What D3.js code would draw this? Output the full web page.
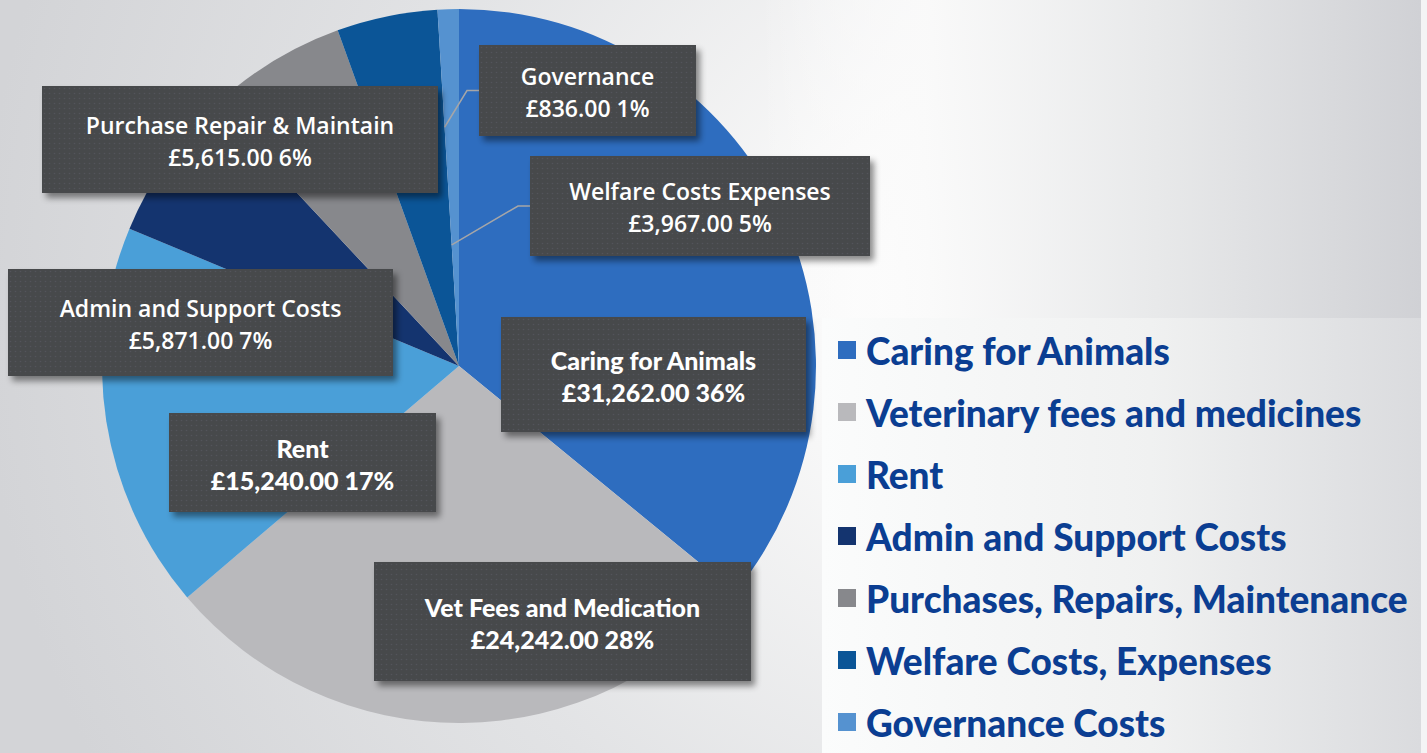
<!DOCTYPE html>
<html>
<head>
<meta charset="utf-8">
<script src="https://cdn.jsdelivr.net/npm/d3@7"></script>
<style>
  body { margin: 0; overflow: hidden; }
  svg { display: block; }
</style>
</head>
<body>
<svg width="1427" height="753"></svg>
<script>
// data
var categories = ["Caring for Animals", "Veterinary fees and medicines", "Rent",
    "Admin and Support Costs", "Purchases, Repairs, Maintenance",
    "Welfare Costs, Expenses", "Governance Costs"];
var values = [31262, 24242, 15240, 5871, 5615, 3967, 836];
var labelNames = ["Caring for Animals", "Vet Fees and Medication", "Rent",
    "Admin and Support Costs", "Purchase Repair & Maintain",
    "Welfare Costs Expenses", "Governance"];
var percentLabels = ["36%", "28%", "17%", "7%", "6%", "5%", "1%"];
var colors = ["#2e6dbf", "#b9b9bc", "#4a9fd8", "#14346f", "#87888c", "#0b5597", "#5592d0"];

// label box layout [x, y, w, h], rounded font flag
var boxes = [
    [501, 317, 305, 115],
    [374, 562, 377, 119],
    [169, 413, 267, 99],
    [8, 269, 385, 107],
    [42, 86, 396, 107],
    [530, 156, 340, 100],
    [479, 45, 217, 91]
];
var roundFont = [true, true, true, false, false, false, false];
// leader lines: [slice index, radius fraction]
var leaders = [[6, 0.67], [5, 0.34]];

var svg = d3.select("svg"),
    width = +svg.attr("width"),
    height = +svg.attr("height"),
    cx = 459, cy = 366, radius = 357;

var defs = svg.append("defs");

var bg = defs.append("radialGradient").attr("id", "bg")
    .attr("gradientUnits", "userSpaceOnUse")
    .attr("cx", 980).attr("cy", 300).attr("r", 1000);
bg.append("stop").attr("offset", "0%").attr("stop-color", "#ffffff");
bg.append("stop").attr("offset", "20%").attr("stop-color", "#f8f8f8");
bg.append("stop").attr("offset", "60%").attr("stop-color", "#e2e3e5");
bg.append("stop").attr("offset", "100%").attr("stop-color", "#d3d4d7");

var topRight = defs.append("linearGradient").attr("id", "topRight")
    .attr("x1", "0%").attr("x2", "100%");
topRight.append("stop").attr("offset", "0%").attr("stop-color", "#ffffff").attr("stop-opacity", 0);
topRight.append("stop").attr("offset", "25%").attr("stop-color", "#fafafa").attr("stop-opacity", 0.9);
topRight.append("stop").attr("offset", "60%").attr("stop-color", "#e8e9ea").attr("stop-opacity", 1);
topRight.append("stop").attr("offset", "100%").attr("stop-color", "#d0d1d5").attr("stop-opacity", 1);

var legendBg = defs.append("linearGradient").attr("id", "legendBg")
    .attr("x1", "0%").attr("x2", "100%");
legendBg.append("stop").attr("offset", "0%").attr("stop-color", "#fbfcfc");
legendBg.append("stop").attr("offset", "55%").attr("stop-color", "#f0f1f1");
legendBg.append("stop").attr("offset", "100%").attr("stop-color", "#dadbde");

var shadow = defs.append("filter").attr("id", "shadow")
    .attr("x", "-10%").attr("y", "-10%").attr("width", "130%").attr("height", "140%");
shadow.append("feDropShadow")
    .attr("dx", 4).attr("dy", 5).attr("stdDeviation", 3)
    .attr("flood-color", "#000").attr("flood-opacity", 0.45);

var dots = defs.append("pattern").attr("id", "dots")
    .attr("width", 5).attr("height", 5).attr("patternUnits", "userSpaceOnUse");
dots.append("rect").attr("width", 5).attr("height", 5).attr("fill", "#46484c");
dots.append("circle").attr("cx", 2.5).attr("cy", 2.5).attr("r", 0.8).attr("fill", "#53555a");

// background
svg.append("rect").attr("width", width).attr("height", height).attr("fill", "url(#bg)");
svg.append("rect").attr("x", 760).attr("y", 0).attr("width", 661).attr("height", 318)
    .attr("fill", "url(#topRight)");
svg.append("rect").attr("x", 822).attr("y", 318).attr("width", 599).attr("height", 435)
    .attr("fill", "url(#legendBg)");
svg.append("rect").attr("x", 1421).attr("y", 0).attr("width", 6).attr("height", height)
    .attr("fill", "#f4f4f5");

// pie
var pie = d3.pie().sort(null).value(function (d) { return d; });
var arcs = pie(values);
var arc = d3.arc().innerRadius(0).outerRadius(radius);

var g = svg.append("g").attr("transform", "translate(" + cx + "," + cy + ")");

g.selectAll("path.slice")
    .data(arcs)
    .enter().append("path")
    .attr("class", "slice")
    .attr("d", arc)
    .attr("fill", function (d, i) { return colors[i]; });

// leader lines
leaders.forEach(function (l) {
    var a = arcs[6].startAngle,
        r = radius * l[1],
        b = boxes[l[0]],
        x0 = Math.sin(a) * r,
        y0 = -Math.cos(a) * r,
        by = b[1] + b[3] / 2 - cy,
        bx = b[0] - cx;
    g.append("polyline")
        .attr("points", [[x0, y0], [bx - 12, by], [bx, by]].map(function (p) { return p.join(","); }).join(" "))
        .attr("fill", "none")
        .attr("stroke", "#a6a6a8")
        .attr("stroke-width", 1.5);
});

// label boxes
var fmt = d3.format(",.2f");
var lab = svg.selectAll("g.lab")
    .data(arcs)
    .enter().append("g")
    .attr("class", "lab")
    .attr("transform", function (d, i) { return "translate(" + boxes[i][0] + "," + boxes[i][1] + ")"; });

lab.append("rect")
    .attr("width", function (d, i) { return boxes[i][2]; })
    .attr("height", function (d, i) { return boxes[i][3]; })
    .attr("fill", "url(#dots)")
    .attr("filter", "url(#shadow)");

lab.each(function (d, i) {
    var b = boxes[i],
        t = d3.select(this).append("text")
            .attr("text-anchor", "middle")
            .attr("fill", "#ffffff")
            .style("font-family", roundFont[i] ? "Lato, sans-serif" : "'Open Sans', sans-serif")
            .style("font-weight", roundFont[i] ? "900" : "600")
            .style("font-size", roundFont[i] ? "25px" : "23px");
    t.append("tspan").attr("x", b[2] / 2).attr("y", b[3] / 2 - 15)
        .attr("dominant-baseline", "central").text(labelNames[i]);
    t.append("tspan").attr("x", b[2] / 2).attr("y", b[3] / 2 + 17)
        .attr("dominant-baseline", "central").text("£" + fmt(values[i]) + " " + percentLabels[i]);
});

// legend
var legend = svg.append("g").attr("transform", "translate(838,350)");
var row = legend.selectAll("g")
    .data(categories)
    .enter().append("g")
    .attr("transform", function (d, i) { return "translate(0," + i * 62 + ")"; });

row.append("rect")
    .attr("x", 0).attr("y", -9)
    .attr("width", 18).attr("height", 18)
    .attr("fill", function (d, i) { return colors[i]; });

row.append("text")
    .attr("x", 28)
    .attr("dominant-baseline", "central")
    .attr("fill", "#0b3e92")
    .style("font-family", "Lato, sans-serif")
    .style("font-weight", "900")
    .style("font-size", "37px")
    .text(function (d) { return d; });
</script>
</body>
</html>
